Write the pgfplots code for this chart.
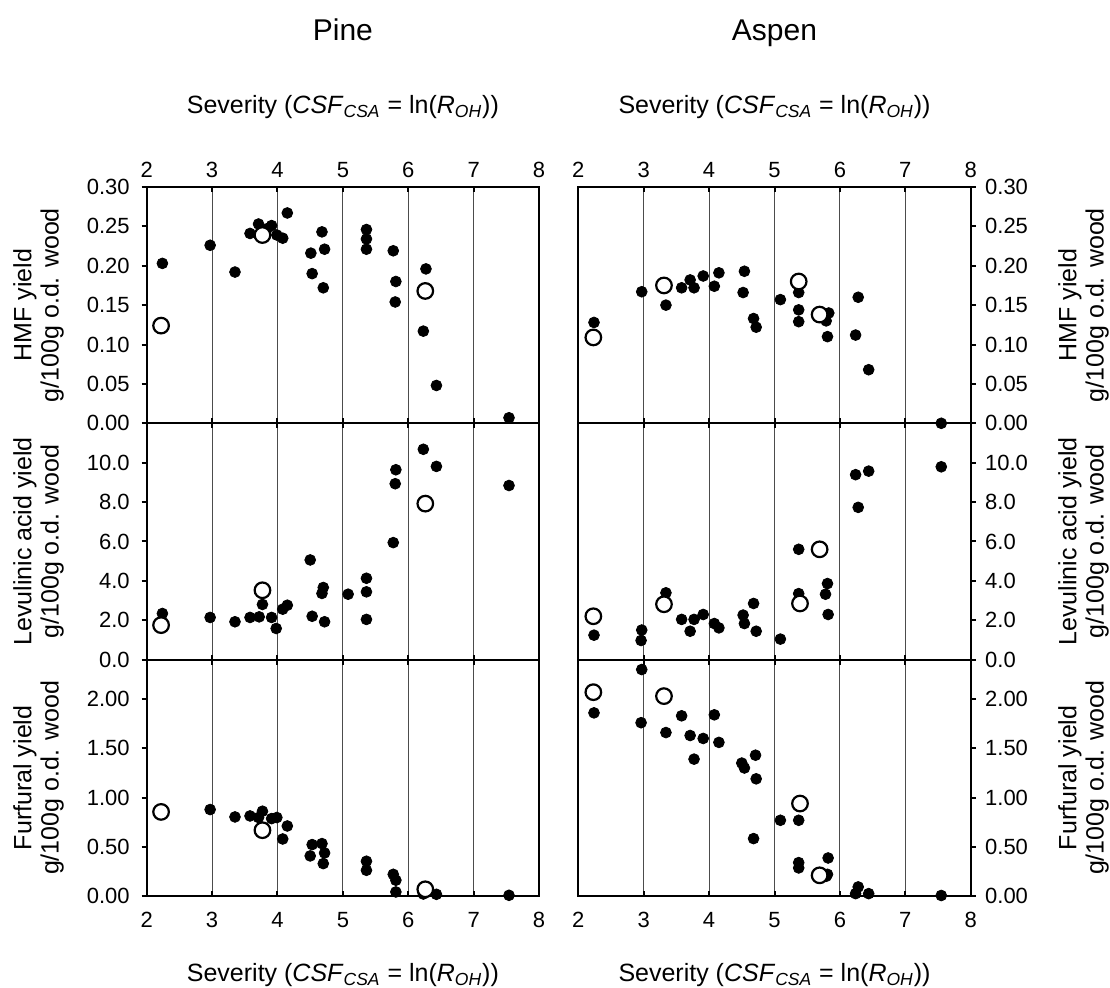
\documentclass[border=0pt]{standalone}
\usepackage{fontspec}
\setmainfont{Liberation Sans}
\usepackage{pgfplots}
\pgfplotsset{compat=1.18}

\newcommand\axfont{\fontsize{12.5}{13.7}\selectfont}
\newcommand\sev{Severity (\textit{CSF}\textsubscript{\textit{CSA}} = ln(\textit{R}\textsubscript{\textit{OH}}))}

\pgfplotsset{
  panel/.style={
    scale only axis, width=196.2pt, height=118.15pt,
    xmin=2, xmax=8, xtick={2,3,4,5,6,7,8},
    xmajorgrids, grid style={line width=0.5pt, black!70},
    xtick align=inside, ytick align=outside,
    xtick pos=both,
    major tick length=2.5pt,
    axis line style={line width=1pt},
    every tick/.style={black, line width=1pt},
    tick label style={font=\fontsize{11}{13}\selectfont},
    /pgf/number format/assume math mode=true,
    clip=false,
  },
  leftp/.style={ytick pos=left, yticklabel pos=left, yticklabel style={xshift=-2.5pt}},
  rightp/.style={ytick pos=right, yticklabel pos=right, yticklabel style={xshift=1.2pt}},
  toprow/.style={xticklabel pos=upper, xticklabel style={yshift=1.2pt}},
  midrow/.style={xticklabels={}},
  botrow/.style={xticklabel pos=lower, xticklabel style={yshift=-4.6pt}},
  hmf/.style={ymin=0, ymax=0.30, ytick={0,0.05,0.1,0.15,0.2,0.25,0.3},
    yticklabels={0.00,0.05,0.10,0.15,0.20,0.25,0.30}},
  lev/.style={ymin=0, ymax=12, ytick={0,2,4,6,8,10},
    yticklabels={0.0,2.0,4.0,6.0,8.0,10.0}},
  fur/.style={ymin=0, ymax=2.4, ytick={0,0.5,1,1.5,2},
    yticklabels={0.00,0.50,1.00,1.50,2.00}},
  fill pt/.style={only marks, mark=*, mark size=2.7pt, black},
  open pt/.style={only marks, mark=*, mark size=3.9pt,
    mark options={fill=white, draw=black, line width=1.1pt}},
}

\begin{document}
\begin{tikzpicture}
\useasboundingbox (0pt,0pt) rectangle (555pt,494pt);

% ---------- Pine ----------
\begin{axis}[panel, leftp, toprow, hmf, at={(73.35pt,282.35pt)}, anchor=south west]
  \addplot[fill pt] coordinates {(2.24,0.203) (2.97,0.226) (3.35,0.192) (3.58,0.241)
    (3.71,0.253) (3.84,0.247) (3.91,0.251) (3.99,0.239) (4.08,0.235) (4.15,0.267)
    (4.51,0.216) (4.53,0.190) (4.68,0.243) (4.70,0.172) (4.72,0.221) (5.36,0.246)
    (5.36,0.234) (5.36,0.221) (5.77,0.219) (5.81,0.180) (5.80,0.154) (6.27,0.196)
    (6.23,0.117) (6.43,0.048) (7.54,0.007)};
  \addplot[open pt] coordinates {(2.22,0.124) (3.77,0.239) (6.26,0.168)};
  \node[font=\fontsize{15}{18}\selectfont, anchor=base] at (rel axis cs:0.5,1.622) {Pine};
  \node[font=\axfont, anchor=base] at (rel axis cs:0.5,1.309) {\sev};
  \node[font=\axfont, rotate=90, align=center] at (rel axis cs:-0.2757,0.5) {HMF yield\\g/100g o.d. wood};
\end{axis}

\begin{axis}[panel, leftp, midrow, lev, at={(73.35pt,164.2pt)}, anchor=south west]
  \addplot[fill pt] coordinates {(2.24,2.34) (2.97,2.14) (3.35,1.92) (3.58,2.14)
    (3.72,2.17) (3.77,2.80) (3.91,2.14) (3.98,1.58) (4.08,2.56) (4.15,2.76)
    (4.50,5.06) (4.53,2.20) (4.68,3.36) (4.70,3.66) (4.72,1.92) (5.08,3.32)
    (5.36,4.13) (5.36,3.44) (5.36,2.04) (5.77,5.94) (5.80,8.93) (5.81,9.64)
    (6.23,10.68) (6.43,9.81) (7.54,8.84)};
  \addplot[open pt] coordinates {(2.22,1.75) (3.77,3.52) (6.26,7.92)};
  \node[font=\axfont, rotate=90, align=center] at (rel axis cs:-0.2757,0.5) {Levulinic acid yield\\g/100g o.d. wood};
\end{axis}

\begin{axis}[panel, leftp, botrow, fur, at={(73.35pt,46pt)}, anchor=south west]
  \addplot[fill pt] coordinates {(2.97,0.878) (3.35,0.803) (3.58,0.813) (3.71,0.797)
    (3.77,0.861) (3.91,0.786) (3.99,0.797) (4.08,0.579) (4.15,0.711) (4.50,0.407)
    (4.53,0.522) (4.68,0.532) (4.70,0.329) (4.72,0.437) (5.36,0.353) (5.36,0.261)
    (5.77,0.220) (5.81,0.160) (5.81,0.041) (6.23,0.020) (6.43,0.017) (7.54,0.007)};
  \addplot[open pt] coordinates {(2.22,0.854) (3.77,0.668) (6.26,0.068)};
  \node[font=\axfont, anchor=base] at (rel axis cs:0.5,-0.360) {\sev};
  \node[font=\axfont, rotate=90, align=center] at (rel axis cs:-0.2757,0.5) {Furfural yield\\g/100g o.d. wood};
\end{axis}

% ---------- Aspen ----------
\begin{axis}[panel, rightp, toprow, hmf, at={(289.15pt,282.35pt)}, anchor=south west]
  \addplot[fill pt] coordinates {(2.24,0.128) (2.97,0.167) (3.34,0.150) (3.58,0.172)
    (3.71,0.182) (3.77,0.172) (3.91,0.187) (4.08,0.174) (4.15,0.191) (4.52,0.166)
    (4.54,0.193) (4.68,0.133) (4.72,0.122) (5.09,0.157) (5.37,0.166) (5.37,0.144)
    (5.37,0.129) (5.79,0.130) (5.83,0.140) (5.81,0.110) (6.24,0.112) (6.28,0.160)
    (6.44,0.068) (7.55,0.000)};
  \addplot[open pt] coordinates {(2.23,0.109) (3.31,0.175) (5.37,0.180) (5.69,0.138)};
  \node[font=\fontsize{15}{18}\selectfont, anchor=base] at (rel axis cs:0.5,1.622) {Aspen};
  \node[font=\axfont, anchor=base] at (rel axis cs:0.5,1.309) {\sev};
  \node[font=\axfont, rotate=90, align=center] at (rel axis cs:1.2875,0.5) {HMF yield\\g/100g o.d. wood};
\end{axis}

\begin{axis}[panel, rightp, midrow, lev, at={(289.15pt,164.2pt)}, anchor=south west]
  \addplot[fill pt] coordinates {(2.24,1.24) (2.96,0.97) (2.97,1.50) (3.34,3.39)
    (3.58,2.04) (3.71,1.44) (3.77,2.04) (3.91,2.29) (4.08,1.83) (4.15,1.61)
    (4.52,2.26) (4.54,1.83) (4.68,2.85) (4.72,1.44) (5.09,1.04) (5.37,5.60)
    (5.37,3.35) (5.78,3.32) (5.81,3.86) (5.82,2.29) (6.24,9.39) (6.28,7.73)
    (6.44,9.57) (7.55,9.79)};
  \addplot[open pt] coordinates {(2.23,2.20) (3.31,2.81) (5.39,2.85) (5.69,5.60)};
  \node[font=\axfont, rotate=90, align=center] at (rel axis cs:1.2875,0.5) {Levulinic acid yield\\g/100g o.d. wood};
\end{axis}

\begin{axis}[panel, rightp, botrow, fur, at={(289.15pt,46pt)}, anchor=south west]
  \addplot[fill pt] coordinates {(2.24,1.86) (2.96,1.76) (2.97,2.30) (3.34,1.66)
    (3.58,1.83) (3.71,1.63) (3.77,1.39) (3.91,1.60) (4.08,1.84) (4.15,1.56)
    (4.50,1.35) (4.54,1.30) (4.68,0.583) (4.71,1.43) (4.72,1.19) (5.09,0.769)
    (5.37,0.769) (5.37,0.339) (5.37,0.285) (5.79,0.200) (5.81,0.220) (5.82,0.386)
    (6.24,0.024) (6.28,0.092) (6.44,0.024) (7.55,0.005)};
  \addplot[open pt] coordinates {(2.23,2.07) (3.31,2.03) (5.39,0.939) (5.69,0.210)};
  \node[font=\axfont, anchor=base] at (rel axis cs:0.5,-0.360) {\sev};
  \node[font=\axfont, rotate=90, align=center] at (rel axis cs:1.2875,0.5) {Furfural yield\\g/100g o.d. wood};
\end{axis}
\end{tikzpicture}
\end{document}
